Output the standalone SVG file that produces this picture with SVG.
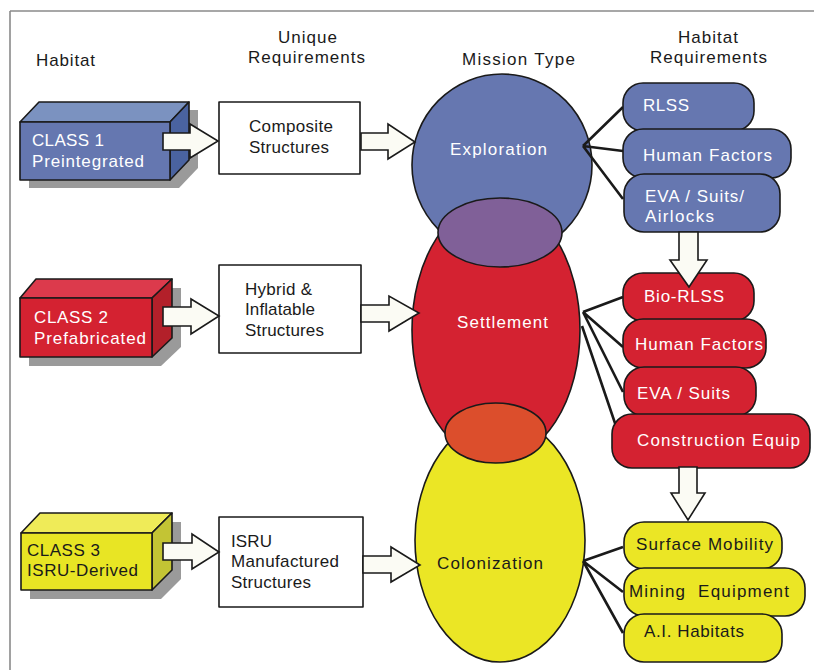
<svg xmlns="http://www.w3.org/2000/svg" width="814" height="670" viewBox="0 0 814 670">
<style>
.t{font-family:"Liberation Sans",Arial,sans-serif;font-size:17px}
.w{fill:#ffffff}
.k{fill:#1a1a1a}
.ol{stroke:#1a1a1a;stroke-width:1.6;stroke-linejoin:round}
.sh{fill:#9a9a9a}
.arr{fill:#fbfbf4;stroke:#1a1a1a;stroke-width:1.6;stroke-linejoin:miter}
.ln{stroke:#1a1a1a;stroke-width:2.6;fill:none}
.blue{fill:#6677b0}
.red{fill:#d42231}
.yel{fill:#ebe625}
.box{fill:#ffffff}
</style>

<g id="frame">
<path d="M10 11 H814 M10 11 V670" stroke="#8a8a8a" stroke-width="1.6" fill="none"/>
</g>

<g id="headers">
<text class="t k" x="36" y="66" textLength="59">Habitat</text>
<text class="t k" x="278" y="43" textLength="59">Unique</text>
<text class="t k" x="248" y="63" textLength="117">Requirements</text>
<text class="t k" x="462" y="65" textLength="113">Mission Type</text>
<text class="t k" x="678" y="43" textLength="60">Habitat</text>
<text class="t k" x="650" y="63" textLength="117">Requirements</text>
</g>

<g id="class1">
<polygon class="sh" points="29,130 48,110 198,110 198,168 179,188 29,188"/>
<polygon class="ol" fill="#7b92c0" points="20,122 39,102 189,102 170,122"/>
<polygon class="ol" fill="#4a63a0" points="170,122 189,102 189,160 170,180"/>
<rect class="ol" fill="#6577b0" x="20" y="122" width="150" height="58"/>
<text class="t w" x="32" y="146" textLength="72">CLASS 1</text>
<text class="t w" x="32" y="167" textLength="112">Preintegrated</text>
</g>

<g id="class2">
<polygon class="sh" points="29,307 46,288 181,288 181,347 161,366 29,366"/>
<polygon class="ol" fill="#dc3a4c" points="20,298 36,279 172,279 152,298"/>
<polygon class="ol" fill="#b3202a" points="152,298 172,279 172,338 152,357"/>
<rect class="ol" fill="#d42231" x="20" y="298" width="132" height="59"/>
<text class="t w" x="34" y="323" textLength="74">CLASS 2</text>
<text class="t w" x="34" y="344" textLength="112">Prefabricated</text>
</g>

<g id="class3">
<polygon class="sh" points="30,542 49,522 181,522 181,579 161,599 30,599"/>
<polygon class="ol" fill="#efeb58" points="21,533 40,513 172,513 152,533"/>
<polygon class="ol" fill="#c3c434" points="152,533 172,513 172,570 152,590"/>
<rect class="ol" fill="#e8e524" x="21" y="533" width="131" height="57"/>
<text class="t k" x="27" y="556" textLength="73">CLASS 3</text>
<text class="t k" x="27" y="576" textLength="111">ISRU-Derived</text>
</g>

<g id="composite">
<rect class="ol box" x="219" y="102" width="141" height="72"/>
<text class="t k" x="249" y="132" textLength="84">Composite</text>
<text class="t k" x="249" y="153" textLength="80">Structures</text>
</g>

<g id="hybrid">
<rect class="ol box" x="219" y="265" width="142" height="88"/>
<text class="t k" x="245" y="295" textLength="67">Hybrid &amp;</text>
<text class="t k" x="245" y="315" textLength="70">Inflatable</text>
<text class="t k" x="245" y="336" textLength="79">Structures</text>
</g>

<g id="isru">
<rect class="ol box" x="219" y="517" width="144" height="90"/>
<text class="t k" x="231" y="547" textLength="41">ISRU</text>
<text class="t k" x="231" y="567" textLength="108">Manufactured</text>
<text class="t k" x="231" y="588" textLength="80">Structures</text>
</g>

<g id="mission-ellipses">
<ellipse class="ol red" cx="496" cy="330" rx="84" ry="130"/>
<ellipse class="ol blue" cx="502" cy="165" rx="90" ry="91"/>
<ellipse class="ol yel" cx="500" cy="540" rx="85" ry="122"/>
<ellipse class="ol" fill="#806098" cx="500" cy="232.5" rx="62" ry="34.5"/>
<ellipse class="ol" fill="#dc4e2c" cx="495.5" cy="433" rx="50.5" ry="30"/>
</g>

<g id="exploration">
<text class="t w" x="450" y="155" textLength="97">Exploration</text>
</g>
<g id="settlement">
<text class="t w" x="457" y="328" textLength="91">Settlement</text>
</g>
<g id="colonization">
<text class="t k" x="437" y="569" textLength="106">Colonization</text>
</g>

<g id="connectors">
<path class="ln" d="M583 146 L623 107 M583 146 L623 151 M583 146 L623 199"/>
<path class="ln" d="M583 312 L623 297 M583 312 L623 347 M583 312 L623 392 M582 326 L618 432"/>
<path class="ln" d="M583 561 L623 547 M583 561 L623 592 M583 561 L623 633"/>
</g>

<g id="rlss">
<rect class="ol blue" x="623" y="83" width="131" height="48" rx="20"/>
<text class="t w" x="643" y="111" textLength="46">RLSS</text>
</g>
<g id="human-factors-1">
<rect class="ol blue" x="623" y="129" width="168" height="49" rx="20"/>
<text class="t w" x="643" y="161" textLength="129">Human Factors</text>
</g>
<g id="eva-suits-airlocks">
<rect class="ol blue" x="624" y="174" width="156" height="58" rx="20"/>
<text class="t w" x="645" y="202" textLength="99">EVA / Suits/</text>
<text class="t w" x="645" y="222" textLength="69">Airlocks</text>
</g>

<g id="bio-rlss">
<rect class="ol red" x="623" y="273" width="131" height="48" rx="20"/>
<text class="t w" x="644" y="302" textLength="80">Bio-RLSS</text>
</g>
<g id="human-factors-2">
<rect class="ol red" x="623" y="319" width="143" height="49" rx="20"/>
<text class="t w" x="635" y="350" textLength="128">Human Factors</text>
</g>
<g id="eva-suits">
<rect class="ol red" x="624" y="367" width="132" height="49" rx="20"/>
<text class="t w" x="637" y="399" textLength="93">EVA / Suits</text>
</g>
<g id="construction-equip">
<rect class="ol red" x="612" y="414" width="198" height="54" rx="20"/>
<text class="t w" x="637" y="446" textLength="163">Construction Equip</text>
</g>

<g id="surface-mobility">
<rect class="ol yel" x="624" y="522" width="158" height="47" rx="20"/>
<text class="t k" x="636" y="550" textLength="137">Surface Mobility</text>
</g>
<g id="mining-equipment">
<rect class="ol yel" x="624" y="568" width="181" height="48" rx="20"/>
<text class="t k" x="629" y="597" textLength="160" xml:space="preserve">Mining  Equipment</text>
</g>
<g id="ai-habitats">
<rect class="ol yel" x="624" y="614" width="158" height="48" rx="20"/>
<text class="t k" x="644" y="637" textLength="100">A.I. Habitats</text>
</g>

<g id="block-arrows">
<path class="arr" d="M163 133 H190 V124 L218 141 L190 158 V150 H163 Z"/>
<path class="arr" d="M361 133 H388 V124 L415 142 L388 159 V150 H361 Z"/>
<path class="arr" d="M163 307 H191 V299 L219 316 L191 334 V326 H163 Z"/>
<path class="arr" d="M361 305 H389 V296 L419 313 L389 331 V322 H361 Z"/>
<path class="arr" d="M163 543 H192 V534 L219 552 L192 569 V560 H163 Z"/>
<path class="arr" d="M363 556 H391 V547 L420 565 L391 582 V573 H363 Z"/>
<path class="arr" d="M679 232 V260 H670 L689 287 L707 260 H698 V232 Z"/>
<path class="arr" d="M679 467 V493 H671 L688 520 L705 493 H697 V467 Z"/>
</g>
</svg>
